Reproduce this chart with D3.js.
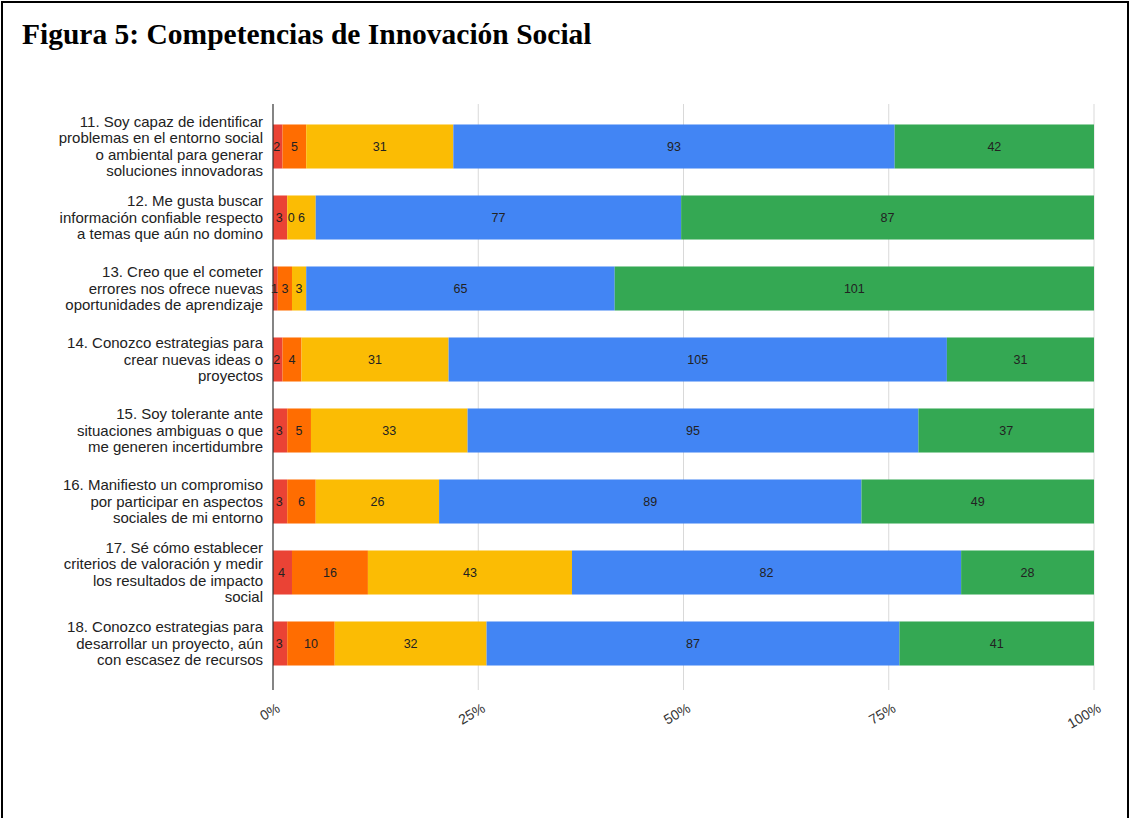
<!DOCTYPE html>
<html>
<head>
<meta charset="utf-8">
<script src="https://cdn.jsdelivr.net/npm/d3@7/dist/d3.min.js"></script>
<style>
  html, body { margin: 0; padding: 0; background: #fff; }
  svg { display: block; }
</style>
</head>
<body>
<svg id="chart" width="1129" height="818"></svg>
<script>
// ---- data ----
const categories = [
  ["11. Soy capaz de identificar", "problemas en el entorno social", "o ambiental para generar", "soluciones innovadoras"],
  ["12. Me gusta buscar", "información confiable respecto", "a temas que aún no domino"],
  ["13. Creo que el cometer", "errores nos ofrece nuevas", "oportunidades de aprendizaje"],
  ["14. Conozco estrategias para", "crear nuevas ideas o", "proyectos"],
  ["15. Soy tolerante ante", "situaciones ambiguas o que", "me generen incertidumbre"],
  ["16. Manifiesto un compromiso", "por participar en aspectos", "sociales de mi entorno"],
  ["17. Sé cómo establecer", "criterios de valoración y medir", "los resultados de impacto", "social"],
  ["18. Conozco estrategias para", "desarrollar un proyecto, aún", "con escasez de recursos"]
];
const seriesNames = ["s1", "s2", "s3", "s4", "s5"];
const s1 = [2, 3, 1, 2, 3, 3, 4, 3];
const s2 = [5, 0, 3, 4, 5, 6, 16, 10];
const s3 = [31, 6, 3, 31, 33, 26, 43, 32];
const s4 = [93, 77, 65, 105, 95, 89, 82, 87];
const s5 = [42, 87, 101, 31, 37, 49, 28, 41];
const seriesColors = ["#ea4335", "#ff6d01", "#fbbc04", "#4285f4", "#34a853"];
const tickValues = [0, 0.25, 0.5, 0.75, 1];
const tickLabels = ["0%", "25%", "50%", "75%", "100%"];
const title = "Figura 5: Competencias de Innovación Social";

// ---- build ----
const svg = d3.select("#chart");
const W = 1129, H = 818;

// outer frame
svg.append("rect").attr("x", 2).attr("y", 2).attr("width", W - 3).attr("height", H + 20)
  .attr("fill", "none").attr("stroke", "#000").attr("stroke-width", 2);

svg.append("text").attr("x", 22).attr("y", 44)
  .attr("font-family", "'Liberation Serif', 'Times New Roman', serif")
  .attr("font-weight", "bold").attr("font-size", 29.5).attr("fill", "#000")
  .text(title);

const margin = { left: 273, right: 1094, top: 111, bottom: 679 };
const rows = categories.map((c, i) => {
  const vals = [s1[i], s2[i], s3[i], s4[i], s5[i]];
  const total = d3.sum(vals);
  const o = { idx: i };
  seriesNames.forEach((k, j) => o[k] = vals[j] / total);
  o.raw = vals;
  return o;
});

const x = d3.scaleLinear().domain([0, 1]).range([margin.left, margin.right]);
const y = d3.scaleBand().domain(d3.range(categories.length)).range([margin.top, margin.bottom]).paddingInner(0.38).paddingOuter(0.19);

// gridlines
const gridG = svg.append("g");
gridG.selectAll("line").data(tickValues.slice(1)).join("line")
  .attr("x1", d => x(d)).attr("x2", d => x(d))
  .attr("y1", 104).attr("y2", 690)
  .attr("stroke", "#d9d9d9").attr("stroke-width", 1);

const stack = d3.stack().keys(seriesNames);
const stacked = stack(rows);

const barsG = svg.append("g");
stacked.forEach((layer, j) => {
  barsG.append("g").attr("fill", seriesColors[j])
    .selectAll("rect").data(layer).join("rect")
    .attr("x", d => x(d[0]))
    .attr("y", (d, i) => y(i))
    .attr("width", d => x(d[1]) - x(d[0]))
    .attr("height", y.bandwidth());
});

// labels
const labG = svg.append("g")
  .attr("font-family", "'Liberation Sans', Arial, sans-serif")
  .attr("font-size", 12.5).attr("fill", "#222").attr("text-anchor", "middle");
stacked.forEach((layer, j) => {
  labG.selectAll(null).data(layer).join("text")
    .attr("x", d => (x(d[0]) + x(d[1])) / 2 + (j === 0 ? -1 : (j === 1 && d.data.raw[1] === 0 ? 4 : 0)))
    .attr("y", (d, i) => y(i) + y.bandwidth() / 2 + 4.5)
    .text(d => d.data.raw[j]);
});

// zero axis line
svg.append("line").attr("x1", x(0)).attr("x2", x(0)).attr("y1", 104).attr("y2", 690)
  .attr("stroke", "#333").attr("stroke-width", 1.2);

// y category labels
const catG = svg.append("g")
  .attr("font-family", "'Liberation Sans', Arial, sans-serif")
  .attr("font-size", 15).attr("fill", "#222").attr("text-anchor", "end");
categories.forEach((lines, i) => {
  const cy = y(i) + y.bandwidth() / 2;
  const lh = 16.4;
  const start = cy - (lines.length - 1) * lh / 2;
  const t = catG.append("text");
  lines.forEach((ln, k) => {
    t.append("tspan").attr("x", 263).attr("y", start + k * lh + 5).text(ln);
  });
});

// x axis tick labels (slanted)
const xAxisG = svg.append("g")
  .attr("font-family", "'Liberation Sans', Arial, sans-serif")
  .attr("font-size", 14).attr("fill", "#333").attr("text-anchor", "end");
xAxisG.selectAll("text").data(tickValues).join("text")
  .attr("transform", d => `translate(${x(d) + 8},${711}) rotate(-30)`)
  .text((d, i) => tickLabels[i]);
</script>
</body>
</html>
